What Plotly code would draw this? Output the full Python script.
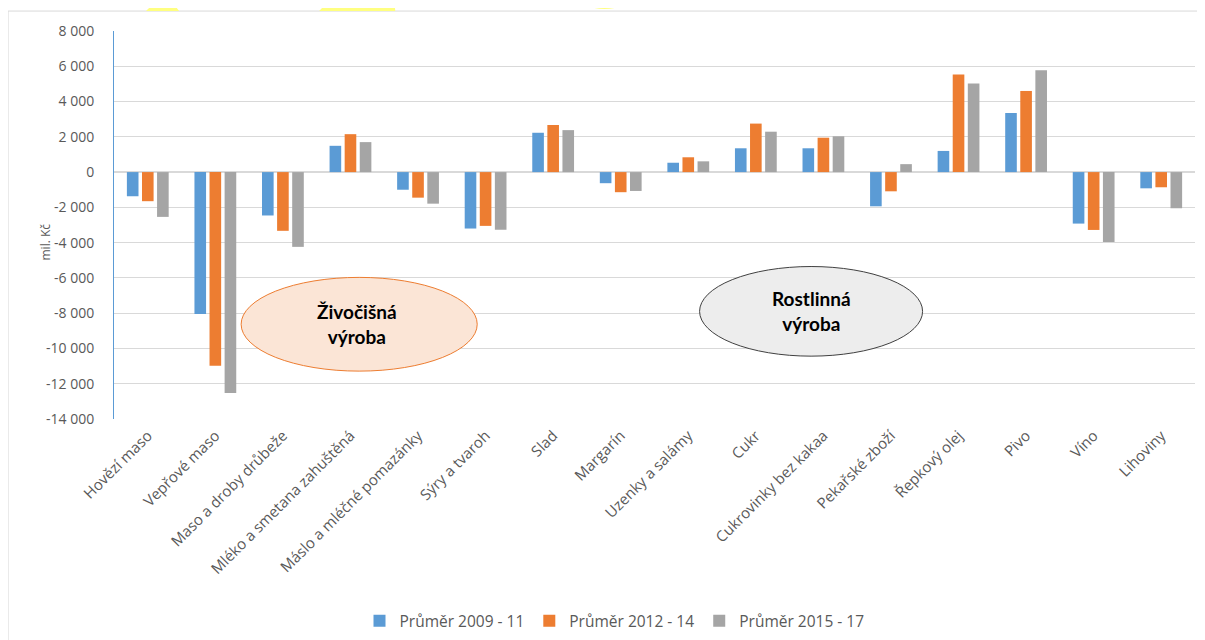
import plotly.graph_objects as go

# ── data ─────────────────────────────────────────────────────────────────────

categories = [
    "Hovězí maso", "Vepřové maso", "Maso a droby drůbeže", "Mléko a smetana zahuštěná",
    "Máslo a mléčné pomazánky", "Sýry a tvaroh", "Slad", "Margarín", "Uzenky a salámy",
    "Cukr", "Cukrovinky bez kakaa", "Pekařské zboží", "Řepkový olej", "Pivo", "Víno", "Lihoviny",
]

avg_2009_11 = [-1370, -8040, -2460, 1490, -1000, -3200, 2230, -630, 530,
               1350, 1350, -1940, 1200, 3350, -2920, -920]
avg_2012_14 = [-1650, -10980, -3330, 2150, -1450, -3050, 2670, -1140, 840,
               2750, 1950, -1090, 5540, 4600, -3280, -860]
avg_2015_17 = [-2540, -12530, -4240, 1700, -1790, -3270, 2380, -1070, 610,
               2290, 2030, 450, 5030, 5770, -3960, -2050]

series_names = ["Průměr 2009 - 11", "Průměr 2012 - 14", "Průměr 2015 - 17"]
series_colors = ["#5B9BD5", "#ED7D31", "#A5A5A5"]

y_tickvals = list(range(-14000, 8001, 2000))
y_ticktext = ["-14 000", "-12 000", "-10 000", "-8 000", "-6 000", "-4 000", "-2 000",
              "0", "2 000", "4 000", "6 000", "8 000"]

# ── figure ───────────────────────────────────────────────────────────────────

fig = go.Figure()
for name, vals, color in zip(series_names, [avg_2009_11, avg_2012_14, avg_2015_17], series_colors):
    fig.add_trace(go.Bar(x=categories, y=vals, name=name,
                         marker=dict(color=color, line=dict(width=0))))

font = "Open Sans, Noto Sans, sans-serif"
label_font = "Lato, Open Sans, sans-serif"

# page body has an 8px margin, so the margins below are shifted to compensate
fig.update_layout(
    width=1205, height=640,
    margin=dict(l=106, r=18, t=23, b=228),
    paper_bgcolor="white", plot_bgcolor="white",
    barmode="group", bargap=0.33, bargroupgap=0.23,
    font=dict(family=font, size=12, color="#595959"),
    showlegend=True,
    legend=dict(orientation="h", x=0.463, xanchor="center", y=-0.517, yanchor="middle",
                font=dict(size=15.5, color="#595959"), traceorder="normal"),
    xaxis=dict(tickangle=-45, showgrid=False, showline=False, ticks="", automargin=False,
               ticklabelstandoff=4,
               tickfont=dict(size=15, color="#595959")),
    yaxis=dict(range=[-14000, 8000], tickvals=y_tickvals, ticktext=y_ticktext,
               automargin=False,
               showgrid=True, gridcolor="#D9D9D9", gridwidth=1,
               zeroline=True, zerolinecolor="#D9D9D9", zerolinewidth=2,
               showline=True, linecolor="#5B9BD5", linewidth=1,
               ticks="", ticklabelstandoff=16,
               tickfont=dict(size=14, color="#595959")),
)

# y axis title
fig.add_annotation(xref="paper", yref="paper", x=-0.0638, y=0.455,
                   xanchor="center", yanchor="middle", textangle=-90,
                   text="mil. Kč", showarrow=False,
                   font=dict(size=12, color="#595959"))

# outer chart border
fig.add_shape(type="rect", xref="paper", yref="paper",
              x0=-0.098, x1=1.02, y0=-0.6, y1=1.0514,
              line=dict(color="#D9D9D9", width=1), layer="below")

# yellow highlighter marks above the chart
fig.add_shape(type="path", xref="paper", yref="paper",
              path="M 0.0296 1.0514 L 0.0602 1.0514 L 0.0528 1.0797 L 0.0398 1.0797 Z",
              fillcolor="#FFFF80", line=dict(width=0))
fig.add_shape(type="path", xref="paper", yref="paper",
              path="M 0.1898 1.0514 L 0.2602 1.0514 L 0.2593 1.0797 L 0.1991 1.0797 Z",
              fillcolor="#FFFF80", line=dict(width=0))
fig.add_shape(type="circle", xref="paper", yref="paper",
              x0=0.4213, x1=0.4861, y0=1.0566, y1=1.1825,
              fillcolor="#FFFF80", line=dict(width=0))

# group ellipses
fig.add_shape(type="circle", xref="paper", yref="paper",
              x0=0.1176, x1=0.336, y0=0.1234, y1=0.365,
              fillcolor="#FBE5D6", line=dict(color="#ED7D31", width=1))
fig.add_annotation(xref="paper", yref="paper", x=0.225, y=0.244,
                   xanchor="center", yanchor="middle",
                   text="<b>Živočišná<br>výroba</b>", showarrow=False,
                   font=dict(size=19, color="black", family=label_font), align="center")

fig.add_shape(type="circle", xref="paper", yref="paper",
              x0=0.5417, x1=0.748, y0=0.162, y1=0.393,
              fillcolor="#EDEDED", line=dict(color="#404040", width=1))
fig.add_annotation(xref="paper", yref="paper", x=0.645, y=0.2776,
                   xanchor="center", yanchor="middle",
                   text="<b>Rostlinná<br>výroba</b>", showarrow=False,
                   font=dict(size=19, color="black", family=label_font), align="center")

fig.write_html("out.html")
